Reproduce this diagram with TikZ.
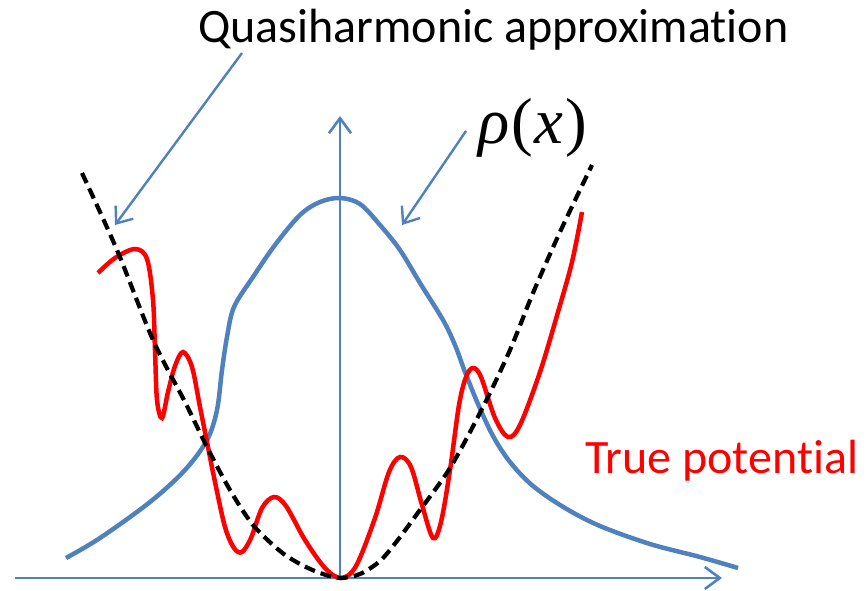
\documentclass[tikz,border=0pt]{standalone}
\usepackage{fontspec}
\setmainfont{Carlito}[Ligatures=NoCommon]
\newfontfamily\rhofont{Liberation Serif}
\usetikzlibrary{arrows.meta}
\definecolor{axblue}{RGB}{79,129,189}
\definecolor{potred}{RGB}{255,0,0}
\tikzset{
  axisline/.style={draw=axblue,line width=2.6pt,-{Straight Barb[length=15pt,width=22pt,line width=2.6pt]}},
  pointer/.style={draw=axblue,line width=2.4pt,-{Straight Barb[length=14pt,width=22pt,line width=2.4pt]}},
  rhocurve/.style={draw=axblue,line width=4.5pt},
  truecurve/.style={draw=potred,line width=4.5pt},
  qhcurve/.style={draw=black,line width=4.2pt,dash pattern=on 11pt off 6pt},
  lbl/.style={inner sep=0pt,font=\fontsize{48}{50}\selectfont},
}
\begin{document}
\begin{tikzpicture}[x=1pt,y=-1pt]
\useasboundingbox (0,0) rectangle (867,591);
% axes
\coordinate (xs) at (15,578);
\coordinate (xe) at (722,578);
\coordinate (ys) at (340,580);
\coordinate (ye) at (340,116);
\draw[axisline] (xs) -- (xe);
\draw[axisline] (ys) -- (ye);
% density rho(x)
\draw[rhocurve] plot[smooth,tension=0.55] coordinates {
 (66,558) (100,538) (150,502) (185,470) (207,440) (217,410) (222,370) (227,337)
 (234,307) (253,277) (275,245) (300,215) (320,202) (340,198) (360,204) (380,225)
 (400,250) (420,283) (443,320) (455,345) (465,372) (478,404) (493,436) (510,462)
 (533,486) (565,508) (600,526) (650,544) (700,557) (738,568)};
% true potential
\draw[truecurve] plot[smooth,tension=0.55] coordinates {
 (98,273) (115,258) (135,249) (147,259) (153,300) (155,350) (157,400) (162,418)
 (168,392) (175,366) (183,352) (192,367) (200,407) (208,447) (215,482) (225,527)
 (234,548) (242,552) (251,538) (262,508) (274,497) (286,506) (305,540) (325,568)
 (341,578) (356,566) (375,518) (389,472) (400,457) (411,467) (422,505) (433,538)
 (441,522) (450,470) (459,405) (466,377) (473,368) (481,377) (495,418) (508,437)
 (520,425) (540,372) (558,312) (572,262) (582,212)};
% quasiharmonic approximation
\draw[qhcurve] plot[smooth,tension=0.5] coordinates {
 (82,173) (117,250) (153,340) (185,402) (207,447) (230,490) (253,525) (280,551)
 (300,564) (320,573) (340,578) (360,574) (380,561) (397,541) (417,514) (450,468)
 (483,407) (510,350) (533,293) (560,232) (592,165)};
% labels
\node[lbl,anchor=base west] (qh) at (198,43) {Quasiharmonic approximation};
\node[lbl,anchor=base west,text=potred] (tp) at (585,473) {True potential};
\node[inner sep=0pt,anchor=base west,font=\fontsize{65}{70}\selectfont\rhofont] (rho) at (478,143) {\textit{ρ}\kern2pt(\kern1pt\textit{x}\kern3pt)};
% pointers
\coordinate (qhs) at (242,53);
\coordinate (qht) at (115,225);
\coordinate (rhs) at (466,131);
\coordinate (rht) at (402,225);
\draw[pointer] (qhs) -- (qht);
\draw[pointer] (rhs) -- (rht);
\end{tikzpicture}
\end{document}
